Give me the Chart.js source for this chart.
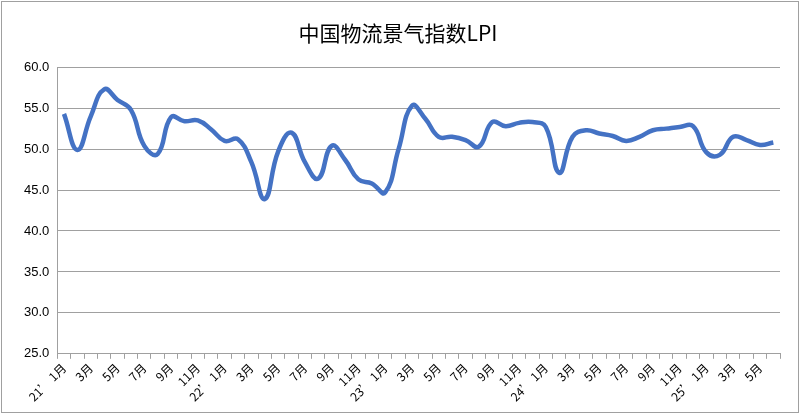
<!DOCTYPE html>
<html>
<head>
<meta charset="utf-8"/>
<style>
  body { margin: 0; padding: 0; background: #fff; }
  #wrap { position: absolute; left: 1px; top: 1px; width: 796px; height: 410px; border: 1px solid #a0a0a0; }
</style>
<script src="https://cdn.jsdelivr.net/npm/chart.js@4/dist/chart.umd.min.js"></script>
</head>
<body>
<div id="wrap"><canvas id="c"></canvas></div>
<script>
var years = ["21’", "22’", "23’", "24’", "25’"];
var monthsPerYear = [12, 12, 12, 12, 6];
var lpi = [
  54.3, 49.9, 54.0, 57.3, 56.0, 54.8, 50.4, 49.4, 53.9, 53.4, 53.5, 52.4,
  51.0, 51.2, 48.4, 43.9, 49.7, 52.0, 48.4, 46.4, 50.4, 48.7, 46.3, 45.8,
  44.7, 50.0, 55.3, 53.7, 51.5, 51.5, 51.1, 50.3, 53.3, 52.8, 53.2, 53.3,
  52.7, 47.1, 51.5, 52.3, 51.9, 51.6, 51.0, 51.5, 52.3, 52.5, 52.7, 52.8,
  49.6, 49.3, 51.5, 51.1, 50.5, 50.8
];

var labels = [];
years.forEach(function(y, k){
  for (var m = 1; m <= monthsPerYear[k]; m++) {
    if (m % 2 === 0) labels.push('');
    else if (m === 1) labels.push(y + ' ' + m + '月');
    else labels.push(m + '月');
  }
});

new Chart(document.getElementById('c'), {
  type: 'line',
  data: {
    labels: labels,
    datasets: [{
      data: lpi,
      borderColor: '#4472c4',
      borderWidth: 4.5,
      pointRadius: 0,
      tension: 0.45,
      fill: false
    }]
  },
  options: {
    responsive: true,
    maintainAspectRatio: false,
    animation: false,
    layout: { padding: { left: 14, right: 18, top: 10, bottom: 6 } },
    plugins: {
      legend: { display: false },
      tooltip: { enabled: false },
      title: {
        display: true,
        text: '中国物流景气指数LPI',
        color: '#000',
        font: { family: '"Noto Sans CJK SC", sans-serif', size: 21, weight: 'normal' },
        padding: { top: 8, bottom: 22 }
      }
    },
    scales: {
      x: {
        offset: true,
        grid: { display: true, drawOnChartArea: false, tickLength: 5, color: '#a0a0a0', offset: true },
        border: { color: '#a0a0a0' },
        ticks: {
          autoSkip: false,
          maxRotation: 45, minRotation: 45,
          color: '#000',
          font: { family: '"Noto Sans CJK SC", sans-serif', size: 12 },
          padding: 2
        }
      },
      y: {
        min: 25, max: 60,
        grid: { color: '#a0a0a0', drawTicks: false },
        border: { color: '#a0a0a0' },
        ticks: {
          stepSize: 5,
          padding: 8,
          color: '#000',
          font: { family: '"Liberation Sans", sans-serif', size: 13 },
          callback: function(v){ return v.toFixed(1); }
        }
      }
    }
  }
});
</script>
</body>
</html>
